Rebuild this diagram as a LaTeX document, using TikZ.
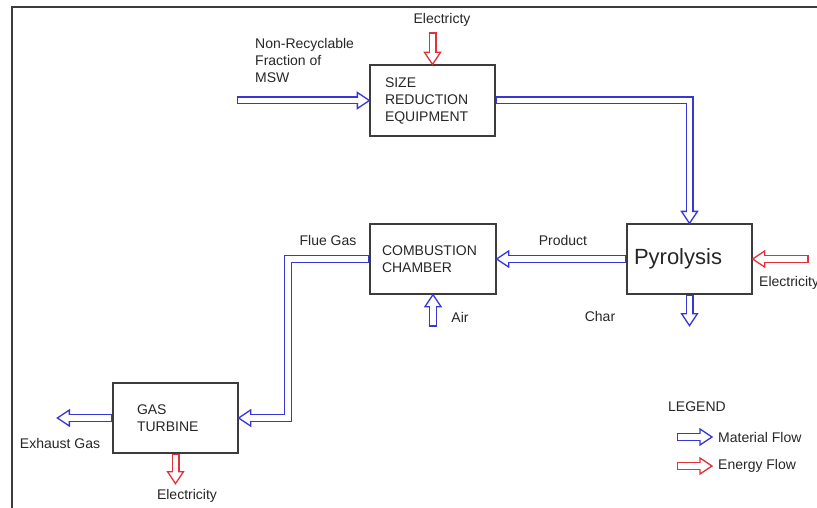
\documentclass[tikz,border=0pt]{standalone}
\usepackage{fontspec}
\setmainfont{Liberation Sans}
\usetikzlibrary{calc}
\definecolor{matcol}{RGB}{55,55,215}
\definecolor{encol}{RGB}{225,50,60}
\definecolor{linecol}{RGB}{60,60,60}
\newcommand\flowarrow[4]{%
  \path ($(#4)!12pt!(#3)$) coordinate (fa-hb);
  \filldraw[fill=white, draw=#1, line width=1.3pt, line join=miter]
    ($(fa-hb)!8pt!90:(#4)$) -- (#4) -- ($(fa-hb)!8pt!-90:(#4)$) -- cycle;
  \draw[#1, line width=8pt, line join=miter] #2 -- (fa-hb);
  \draw[white, line width=5.4pt, line join=miter, shorten <=1.3pt, shorten >=-1.6pt] #2 -- (fa-hb);
}
\begin{document}
\begin{tikzpicture}[x=1pt,y=-1pt, font=\fontsize{14}{17}\selectfont,
  unit/.style={draw=linecol, line width=1.3pt, minimum height=70pt, inner ysep=0pt, align=left, text=black!85},
  lbl/.style={inner sep=0pt, text=black!85}]
\useasboundingbox (0,0) rectangle (817,508);
\draw[linecol, line width=1.5pt] (12,520) -- (12,7) -- (830,7);

\node[unit, text width=95pt, inner xsep=15pt, minimum height=71pt] (sr) at (432.5,100.5) {SIZE\\REDUCTION\\EQUIPMENT};
\node[unit, text width=102pt, inner xsep=12pt] (cc) at (433,259) {COMBUSTION\\CHAMBER};
\node[unit, text width=111pt, inner xsep=7pt, font=\fontsize{22}{26}\selectfont] (py) at (689.5,259) {Pyrolysis};
\node[unit, text width=77pt, inner xsep=24pt] (gt) at (175.5,418) {GAS\\TURBINE};

\coordinate (mswtail) at (237,100.5);
\coordinate (el1tail) at ($(sr.north)+(0,-32)$);
\coordinate (b1) at (sr.east -| py.north);
\coordinate (el2tail) at ($(py.east)+(56,0)$);
\coordinate (chartip) at ($(py.south)+(0,31)$);
\coordinate (airtail) at ($(cc.south)+(0,32)$);
\coordinate (fx) at (288,0);
\coordinate (f1) at (cc.west -| fx);
\coordinate (f2) at (gt.east -| fx);
\coordinate (exhtip) at ($(gt.west)+(-55,0)$);
\coordinate (el3tip) at ($(gt.south)+(0,30)$);
\coordinate (lm1) at (677,437);
\coordinate (lm2) at (712,437);
\coordinate (le1) at (677,466);
\coordinate (le2) at (712,466);

\flowarrow{matcol}{(mswtail)}{mswtail}{sr.west}
\flowarrow{encol}{(el1tail)}{el1tail}{sr.north}
\flowarrow{matcol}{(sr.east) -- (b1)}{b1}{py.north}
\flowarrow{encol}{(el2tail)}{el2tail}{py.east}
\flowarrow{matcol}{(py.south)}{py.south}{chartip}
\flowarrow{matcol}{(py.west)}{py.west}{cc.east}
\flowarrow{matcol}{(airtail)}{airtail}{cc.south}
\flowarrow{matcol}{(cc.west) -- (f1) -- (f2)}{f2}{gt.east}
\flowarrow{matcol}{(gt.west)}{gt.west}{exhtip}
\flowarrow{encol}{(gt.south)}{gt.south}{el3tip}
\flowarrow{matcol}{(lm1)}{lm1}{lm2}
\flowarrow{encol}{(le1)}{le1}{le2}

\node[lbl] (lelec1) at (442,20) {Electricty};
\node[lbl, anchor=west, align=left] (lmsw) at (255,60) {Non-Recyclable\\Fraction of\\MSW};
\node[lbl] (lprod) at (563,240) {Product};
\node[lbl] (lchar) at (600,316) {Char};
\node[lbl] (lair) at (460,317) {Air};
\node[lbl] (lflue) at (328,240) {Flue Gas};
\node[lbl] (lexh) at (60,443) {Exhaust Gas};
\node[lbl] (lelec3) at (187,496) {Electricity};
\node[lbl, anchor=west] (lelec2) at (759,283) {Electricity};
\node[lbl, anchor=west] (lleg) at (668,407) {LEGEND};
\node[lbl, anchor=west] (lmat) at (718,437) {Material Flow};
\node[lbl, anchor=west] (lene) at (718,466) {Energy Flow};
\end{tikzpicture}
\end{document}
